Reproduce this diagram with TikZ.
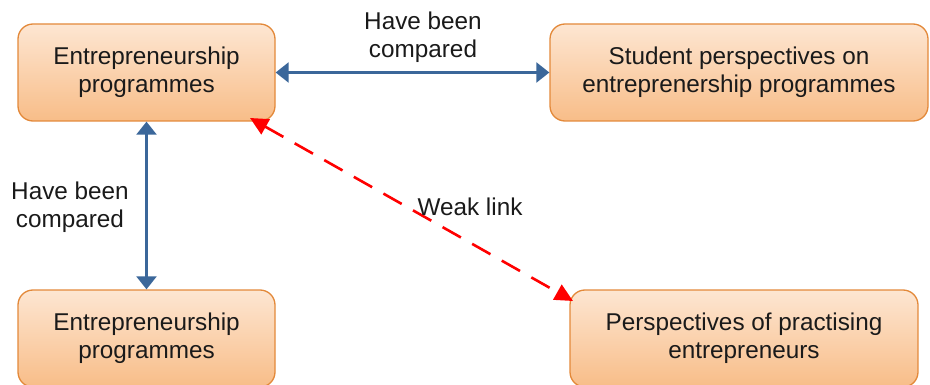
\documentclass[tikz,border=0pt]{standalone}
\usepackage{fontspec}
\setmainfont{Liberation Sans}
\usetikzlibrary{arrows.meta}
\definecolor{boxtop}{HTML}{FDE6D2}
\definecolor{boxbot}{HTML}{F8BD88}
\definecolor{boxline}{HTML}{E3893A}
\definecolor{linkblue}{HTML}{3B679A}
\definecolor{txt}{HTML}{1A1A1A}
\begin{document}
\begin{tikzpicture}[x=1pt,y=-1pt,
  box/.style={draw=boxline, line width=1.3pt, rounded corners=15pt,
    top color=boxtop, bottom color=boxbot, align=center,
    inner sep=0pt, text=txt,
    font=\fontsize{24.3}{28}\selectfont},
  lbl/.style={align=center, text=txt, font=\fontsize{24.3}{28}\selectfont},
  barrow/.style={draw=linkblue, line width=2.3pt,
    {Triangle[length=13pt,width=20pt]}-{Triangle[length=13pt,width=20pt]}},
  rarrow/.style={draw=red, line width=2.6pt, dash pattern=on 21pt off 13pt,
    {Triangle[length=18pt,width=17pt]}-{Triangle[length=18pt,width=17pt]}}
]
\useasboundingbox (0,0) rectangle (930,385);
\node[box, minimum width=257pt, minimum height=97pt] (b1) at (146.5,72.5) {Entrepreneurship\\programmes};
\node[box, minimum width=378pt, minimum height=97pt] (b2) at (739,72.5) {Student perspectives on\\entreprenership programmes};
\node[box, minimum width=257pt, minimum height=97pt] (b3) at (146.5,338.5) {Entrepreneurship\\programmes};
\node[box, minimum width=348pt, minimum height=97pt] (b4) at (744,338.5) {Perspectives of practising\\entrepreneurs};
\draw[barrow] (b1.east) -- (b2.west);
\draw[barrow] (b1.south) -- (b3.north);
\coordinate (r1) at (250,118);
\coordinate (r2) at (573,301);
\draw[rarrow] (r1) -- (r2);
\node[lbl] (l1) at (423,37) {Have been\\compared};
\node[lbl] (l2) at (70,207) {Have been\\compared};
\node[lbl] (l3) at (470,207) {Weak link};
\end{tikzpicture}
\end{document}
